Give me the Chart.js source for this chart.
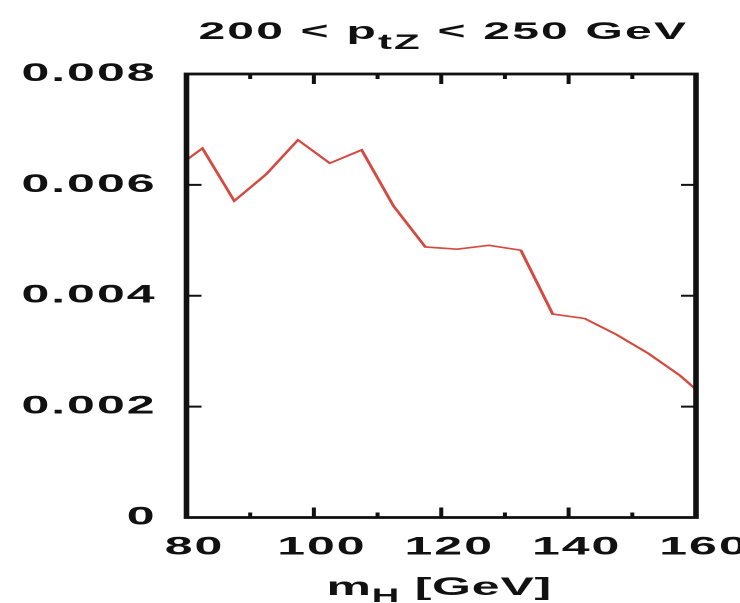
<!DOCTYPE html>
<html>
<head>
<meta charset="utf-8">
<script src="https://cdn.jsdelivr.net/npm/chart.js@4"></script>
<style>
  html, body { margin: 0; padding: 0; background: #fff; overflow: hidden; }
  /* the reference is stretched about 2x sideways, so draw narrow and stretch */
  #wrap { width: 370px; height: 603px; transform: scaleX(2); transform-origin: 0 0; }
</style>
</head>
<body>
<div id="wrap"><canvas id="chart"></canvas></div>
<script>
const mH = [80, 82.5, 87.5, 92.5, 97.5, 102.5, 107.5, 112.5, 117.5, 122.5, 127.5, 132.5, 137.5, 142.5, 147.5, 152.5, 157.5, 160];
const dsigma = [0.00645, 0.00666, 0.00571, 0.00619, 0.00681, 0.00639, 0.00663, 0.00562, 0.00488, 0.00484, 0.00491, 0.00482, 0.00367, 0.00359, 0.0033, 0.00296, 0.00256, 0.00231];
const xTicks = [80, 100, 120, 140, 160];
const xMinorTicks = [90, 110, 130, 150];
const yTicks = [0, 0.002, 0.004, 0.006, 0.008];
const titleParts = ['200 < p', 'tZ', ' < 250 GeV'];
const xTitleParts = ['m', 'H', ' [GeV]'];

const FONT = '"Liberation Sans", Arial, sans-serif';
const INK = '#111';

function drawSubText(ctx, parts, cx, baseline, size, subSize, drop, spacing) {
  const big = 'bold ' + size + 'px ' + FONT;
  const small = 'bold ' + subSize + 'px ' + FONT;
  ctx.letterSpacing = spacing;
  ctx.font = big;
  const w0 = ctx.measureText(parts[0]).width;
  const w2 = ctx.measureText(parts[2]).width;
  ctx.font = small;
  const w1 = ctx.measureText(parts[1]).width;
  let x = cx - (w0 + w1 + w2) / 2;
  ctx.textAlign = 'left';
  ctx.textBaseline = 'alphabetic';
  ctx.fillStyle = INK;
  ctx.font = big;
  ctx.fillText(parts[0], x, baseline);
  x += w0;
  ctx.font = small;
  ctx.fillText(parts[1], x, baseline + drop);
  x += w1;
  ctx.font = big;
  ctx.fillText(parts[2], x, baseline);
}

const framePlugin = {
  id: 'frame',
  beforeDraw(chart) {
    // tick labels in the reference are slightly spread out
    chart.ctx.letterSpacing = '1px';
  },
  afterDraw(chart) {
    const { ctx, chartArea: a, scales } = chart;
    ctx.save();
    ctx.strokeStyle = INK;
    ctx.lineWidth = 2;
    ctx.beginPath();
    // x ticks, inward on bottom and top
    xTicks.slice(1, -1).forEach(v => {
      const px = scales.x.getPixelForValue(v);
      ctx.moveTo(px, a.bottom); ctx.lineTo(px, a.bottom - 10);
      ctx.moveTo(px, a.top); ctx.lineTo(px, a.top + 10);
    });
    xMinorTicks.forEach(v => {
      const px = scales.x.getPixelForValue(v);
      ctx.moveTo(px, a.bottom); ctx.lineTo(px, a.bottom - 5);
      ctx.moveTo(px, a.top); ctx.lineTo(px, a.top + 5);
    });
    // y ticks, inward on left and right
    yTicks.slice(1, -1).forEach(v => {
      const py = scales.y.getPixelForValue(v);
      ctx.moveTo(a.left, py); ctx.lineTo(a.left + 7.5, py);
      ctx.moveTo(a.right, py); ctx.lineTo(a.right - 7.5, py);
    });
    ctx.stroke();
    ctx.lineWidth = 2.8;
    ctx.strokeRect(a.left, a.top, a.right - a.left, a.bottom - a.top);

    const cx = (a.left + a.right) / 2;
    drawSubText(ctx, titleParts, cx + 1, 39, 24, 21, 10, '1.1px');
    drawSubText(ctx, xTitleParts, cx - 1, 595, 25, 19, 7, '0.4px');
    ctx.restore();
  }
};

new Chart(document.getElementById('chart'), {
  type: 'line',
  data: {
    datasets: [{
      data: mH.map((x, i) => ({ x: x, y: dsigma[i] })),
      borderColor: '#d44a40',
      borderWidth: 1.6,
      pointRadius: 0,
      tension: 0,
      fill: false,
    }],
  },
  options: {
    responsive: true,
    maintainAspectRatio: false,
    devicePixelRatio: 2,
    animation: false,
    events: [],
    layout: { padding: { top: 74, right: 22, left: 0, bottom: 0 } },
    plugins: { legend: { display: false }, title: { display: false }, tooltip: { enabled: false } },
    scales: {
      x: {
        type: 'linear',
        min: 80,
        max: 160,
        afterBuildTicks: s => { s.ticks = xTicks.map(v => ({ value: v })); },
        afterFit: s => { s.height = 85.5; s.paddingLeft = 0; s.paddingRight = 0; },
        grid: { display: false, drawTicks: false },
        border: { display: false },
        ticks: {
          padding: 15,
          labelOffset: 4,
          maxRotation: 0,
          autoSkip: false,
          color: INK,
          font: { family: FONT, size: 25, weight: 'bold' },
        },
      },
      y: {
        min: 0,
        max: 0.008,
        afterBuildTicks: s => { s.ticks = yTicks.map(v => ({ value: v })); },
        afterFit: s => { s.width = 93.25; s.paddingTop = 0; s.paddingBottom = 0; },
        grid: { display: false, drawTicks: false },
        border: { display: false },
        ticks: {
          padding: 15,
          color: INK,
          font: { family: FONT, size: 25, weight: 'bold' },
          callback: v => (v === 0 ? '0' : v.toFixed(3)),
        },
      },
    },
  },
  plugins: [framePlugin],
});
</script>
</body>
</html>
